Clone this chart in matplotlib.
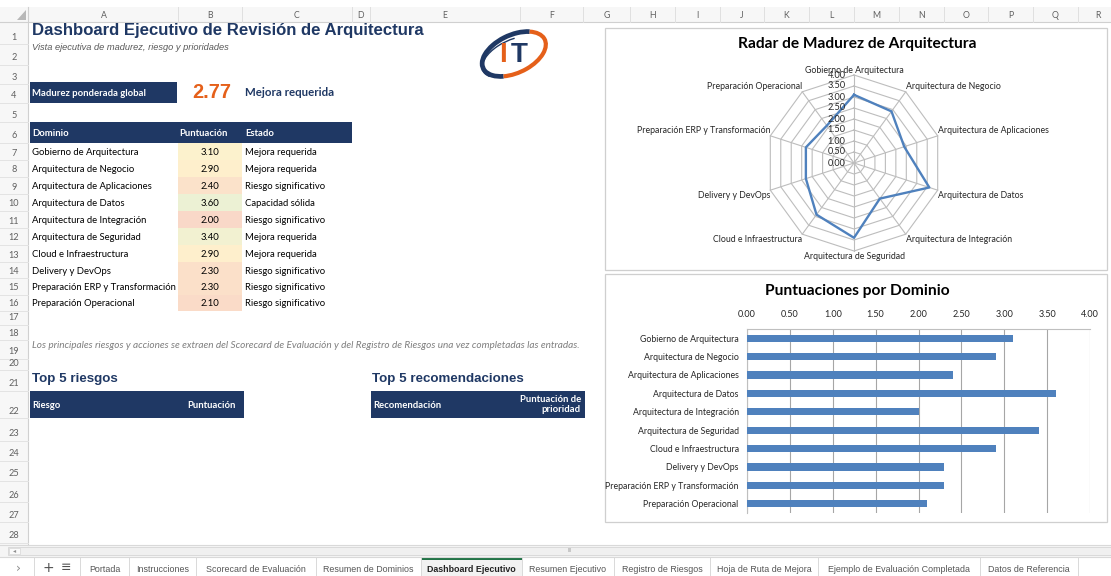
import matplotlib
matplotlib.use("Agg")
import matplotlib.pyplot as plt
import numpy as np
from matplotlib.patches import Rectangle, Arc, Polygon
from matplotlib import transforms
from matplotlib.colors import to_rgb

W, H, DPI = 1111, 576, 100

# ---------------- data ----------------
dominios = ["Gobierno de Arquitectura", "Arquitectura de Negocio", "Arquitectura de Aplicaciones",
            "Arquitectura de Datos", "Arquitectura de Integración", "Arquitectura de Seguridad",
            "Cloud e Infraestructura", "Delivery y DevOps", "Preparación ERP y Transformación",
            "Preparación Operacional"]
puntuaciones = [3.10, 2.90, 2.40, 3.60, 2.00, 3.40, 2.90, 2.30, 2.30, 2.10]
estados = ["Mejora requerida", "Mejora requerida", "Riesgo significativo", "Capacidad sólida",
           "Riesgo significativo", "Mejora requerida", "Mejora requerida", "Riesgo significativo",
           "Riesgo significativo", "Riesgo significativo"]
madurez_global = 2.77
estado_global = "Mejora requerida"
column_letters = list("ABCDEFGHIJKLMNOPQR")
tabs = ["Portada", "Instrucciones", "Scorecard de Evaluación", "Resumen de Dominios",
        "Dashboard Ejecutivo", "Resumen Ejecutivo", "Registro de Riesgos", "Hoja de Ruta de Mejora",
        "Ejemplo de Evaluación Completada", "Datos de Referencia"]
active_tab = "Dashboard Ejecutivo"
escala_ticks = [0.0, 0.5, 1.0, 1.5, 2.0, 2.5, 3.0, 3.5, 4.0]

# ---------------- layout / style ----------------
SANS = "Lato"
ARIAL = "Liberation Sans"
NAVY = "#1F3864"
ORANGE = "#E5601A"
BLUE = "#4F81BD"
BODY = 6.8
col_edges = [30, 178, 242, 352, 370, 520, 583, 630, 675, 720, 764, 809, 854, 899, 944, 988, 1033, 1078, 1125]
row_bottoms = [44, 65, 84, 103, 122, 143, 160, 177, 194, 211, 228, 245, 262, 278, 295, 311, 325,
               340, 359, 370, 391, 418, 441, 461, 481, 502, 522, 543]
tab_edges = [80, 129, 196, 316, 421, 522, 614, 710, 818, 980, 1078]

fig = plt.figure(figsize=(W / DPI, H / DPI), dpi=DPI)
bg = fig.add_axes([0, 0, 1, 1])
bg.set_xlim(0, W)
bg.set_ylim(H, 0)
bg.axis("off")


def txt(x, y, s, size, color="black", weight="normal", style="normal", ha="left", va="center",
        family=SANS, **kw):
    return bg.text(x, y, s, fontsize=size, color=color, fontweight=weight, fontstyle=style,
                   ha=ha, va=va, family=family, **kw)


def rect(x0, y0, x1, y1, fc, ec="none", lw=0.8, z=1):
    bg.add_patch(Rectangle((x0, y0), x1 - x0, y1 - y0, facecolor=fc, edgecolor=ec, lw=lw, zorder=z))


# ---- sheet chrome: column headers & row numbers ----
rect(0, 7, W, 22, "#F7F7F7")
rect(0, 22, 28, 545, "#F7F7F7")
bg.plot([0, W], [22, 22], color="#D0D0D0", lw=0.8)
bg.plot([28, 28], [7, 545], color="#D0D0D0", lw=0.8)
bg.add_patch(Polygon([[26, 10], [26, 20], [17, 20]], closed=True, facecolor="#B8B8B8", edgecolor="none"))
for i, letter in enumerate(column_letters):
    x0, x1 = col_edges[i], col_edges[i + 1]
    bg.plot([x1, x1], [7, 22], color="#E0E0E0", lw=0.7)
    txt((x0 + x1) / 2 if i < len(column_letters) - 1 else x0 + 20, 15, letter, 6.3, color="#606060", ha="center")
for i, yb in enumerate(row_bottoms):
    bg.plot([0, 28], [yb, yb], color="#E3E3E3", lw=0.7)
    txt(14, yb - 7, str(i + 1), 6.6, color="#606060", ha="center")

# ---- title block ----
txt(32, 31, "Dashboard Ejecutivo de Revisión de Arquitectura", 12.1, color=NAVY, weight="bold", family=ARIAL)
txt(32, 47, "Vista ejecutiva de madurez, riesgo y prioridades", 6.7, color="#595959", style="italic", family=ARIAL)

# ---- logo ----
lc = (514, 54)
bg.add_patch(Arc(lc, 68, 38, angle=-25, theta1=140, theta2=330, color=NAVY, lw=3.4))
bg.add_patch(Arc(lc, 68, 38, angle=-25, theta1=-30, theta2=140, color=ORANGE, lw=3.0))
bg.add_patch(Arc((lc[0] - 1, lc[1] + 3), 66, 34, angle=-25, theta1=165, theta2=300, color=NAVY, lw=1.0))
txt(503, 55, "I", 20, color=ORANGE, weight="bold", family=ARIAL, ha="center")
txt(519, 55, "T", 20, color=NAVY, weight="bold", family=ARIAL, ha="center")

# ---- overall maturity ----
rect(30, 82, 177, 103, NAVY)
txt(32, 93, "Madurez ponderada global", BODY, color="white", weight="bold")
txt(192, 93, f"{madurez_global:.2f}", 14.3, color=ORANGE, weight="bold", family=ARIAL)
txt(245, 93, estado_global, 8.3, color=NAVY, weight="bold")

# ---- domain table ----
rect(30, 122, 352, 143, NAVY)
txt(32, 133, "Dominio", BODY, color="white", weight="bold")
txt(179, 133, "Puntuación", BODY, color="white", weight="bold")
txt(245, 133, "Estado", BODY, color="white", weight="bold")

lo, mid, hi = np.array(to_rgb("#F9D8C8")), np.array(to_rgb("#FFF2CC")), np.array(to_rgb("#ECF1D4"))
vmin, vmid, vmax = min(puntuaciones), 3.0, max(puntuaciones)


def scale_color(v):
    if v <= vmid:
        f = (v - vmin) / (vmid - vmin)
        return tuple(lo + (mid - lo) * f)
    f = (v - vmid) / (vmax - vmid)
    return tuple(mid + (hi - mid) * f)


for i, (d, p, e) in enumerate(zip(dominios, puntuaciones, estados)):
    y0 = row_bottoms[5 + i]
    y1 = row_bottoms[6 + i]
    yc = (y0 + y1) / 2 + 1
    rect(178, y0, 242, y1, scale_color(p))
    txt(32, yc, d, BODY)
    txt(210, yc, f"{p:.2f}", BODY, ha="center")
    txt(245, yc, e, BODY)

txt(32, 345, "Los principales riesgos y acciones se extraen del Scorecard de Evaluación y del Registro de "
    "Riesgos una vez completadas las entradas.", 7.18, color="#7F7F7F", style="italic")

txt(32, 379, "Top 5 riesgos", 9.6, color=NAVY, weight="bold", family=ARIAL)
txt(372, 379, "Top 5 recomendaciones", 9.6, color=NAVY, weight="bold", family=ARIAL)
rect(30, 391, 244, 418, NAVY)
txt(32, 406, "Riesgo", BODY, color="white", weight="bold")
txt(236, 406, "Puntuación", BODY, color="white", weight="bold", ha="right")
rect(371, 391, 585, 418, NAVY)
txt(373, 406, "Recomendación", BODY, color="white", weight="bold")
txt(581, 404.5, "Puntuación de\nprioridad", BODY, color="white", weight="bold", ha="right",
    multialignment="right", linespacing=1.25)

# ---- chart frames ----
rect(605, 28, 1107, 270, "white", ec="#CFCFCF", lw=0.9)
rect(605, 274, 1107, 522, "white", ec="#CFCFCF", lw=0.9)
txt(857, 44, "Radar de Madurez de Arquitectura", 11.2, weight="bold", ha="center")
txt(857, 291, "Puntuaciones por Dominio", 11.2, weight="bold", ha="center")

# ---- radar chart ----
cx, cy, R = 854, 163, 88
rad = fig.add_axes([(cx - R) / W, (H - cy - R) / H, 2 * R / W, 2 * R / H], projection="polar")
rad.set_theta_zero_location("N")
rad.set_theta_direction(-1)
rad.set_ylim(0, max(escala_ticks))
rad.axis("off")
n = len(dominios)
ang = np.arange(n) * 2 * np.pi / n
ang_c = np.append(ang, ang[0])
for r in escala_ticks[1:]:
    rad.plot(ang_c, [r] * (n + 1), color="#BDBDBD", lw=0.8, clip_on=False)
for a in ang:
    rad.plot([a, a], [0, max(escala_ticks)], color="#BDBDBD", lw=0.8, clip_on=False)
rad.plot(ang_c, list(puntuaciones) + [puntuaciones[0]], color=BLUE, lw=1.7, clip_on=False, zorder=5)
for r in escala_ticks:
    tr = transforms.offset_copy(rad.transData, fig=fig, x=-6, y=0, units="points")
    rad.text(0, r, f"{r:.2f}", transform=tr, ha="right", va="center", fontsize=6.6,
             family=SANS, color="#262626", zorder=6)
for a, d in zip(ang, dominios):
    s, c = np.sin(a), np.cos(a)
    if abs(s) < 0.05:
        ha = "center"
        va = "bottom" if c > 0 else "top"
        dx, dy = 0, (0 if c > 0 else -1)
    else:
        ha = "left" if s > 0 else "right"
        va = "center"
        dx, dy = 0, 3.8 * np.sign(c)
    tr = transforms.offset_copy(rad.transData, fig=fig, x=dx, y=dy, units="points")
    rad.text(a, max(escala_ticks), d, transform=tr, ha=ha, va=va, fontsize=6.3, family=SANS,
             color="#262626", zorder=6)

# ---- bar chart ----
bx0, bx1, by0, by1 = 747, 1090, 329, 513
bar = fig.add_axes([bx0 / W, (H - by1) / H, (bx1 - bx0) / W, (by1 - by0) / H])
ypos = np.arange(n)
bar.barh(ypos, puntuaciones, height=0.4, color=BLUE, zorder=3)
bar.set_xlim(0, max(escala_ticks))
bar.set_ylim(n - 0.5, -0.5)
bar.set_xticks(escala_ticks)
bar.set_xticklabels([f"{v:.2f}" for v in escala_ticks], fontsize=6.5, family=SANS, color="#262626")
bar.xaxis.tick_top()
bar.set_yticks(ypos)
bar.set_yticklabels(dominios, fontsize=6.3, family=SANS, color="#262626")
bar.tick_params(axis="both", length=0)
bar.tick_params(axis="x", pad=7)
bar.tick_params(axis="y", pad=6)
bar.grid(axis="x", color="#A6A6A6", lw=0.8, zorder=0)
bar.set_facecolor("none")
for side in ["right", "bottom"]:
    bar.spines[side].set_visible(False)
for side in ["top", "left"]:
    bar.spines[side].set_color("#BFBFBF")
    bar.spines[side].set_linewidth(0.8)

# ---- horizontal scrollbar & sheet tabs ----
rect(0, 545, W, 557, "#F5F5F5")
bg.plot([0, W], [545, 545], color="#D9D9D9", lw=0.8)
rect(8, 547, 1111, 555, "#F0F0F0", ec="#D6D6D6", lw=0.6)
rect(9, 548, 20, 554, "#FAFAFA", ec="#D6D6D6", lw=0.5)
txt(14.5, 551, "◂", 4.5, color="#909090", ha="center", family="DejaVu Sans")
txt(570, 551, "III", 3.8, color="#A0A0A0", ha="center", family=ARIAL)
rect(0, 557, W, 576, "white")
bg.plot([0, W], [557, 557], color="#D9D9D9", lw=0.8)
txt(18, 568, "›", 9, color="#8C8C8C", ha="center", family="DejaVu Sans")
bg.plot([34, 34], [558, 576], color="#D9D9D9", lw=0.7)
txt(48, 568, "+", 10, color="#505050", ha="center", family="DejaVu Sans")
txt(66, 568, "≡", 9, color="#505050", ha="center", family="DejaVu Sans")
for i, name in enumerate(tabs):
    x0, x1 = tab_edges[i], tab_edges[i + 1]
    bg.plot([x0, x0], [558, 576], color="#D9D9D9", lw=0.7)
    is_active = name == active_tab
    if is_active:
        rect(x0, 557, x1, 576, "#F2F2F2")
        rect(x0, 557, x1, 560, "#217346")
    txt((x0 + x1) / 2, 569, name, 6.4, color="#222222" if is_active else "#555555",
        weight="bold" if is_active else "normal", ha="center", family=ARIAL)
bg.plot([tab_edges[-1], tab_edges[-1]], [558, 576], color="#D9D9D9", lw=0.7)

fig.savefig("out.png", dpi=DPI)
